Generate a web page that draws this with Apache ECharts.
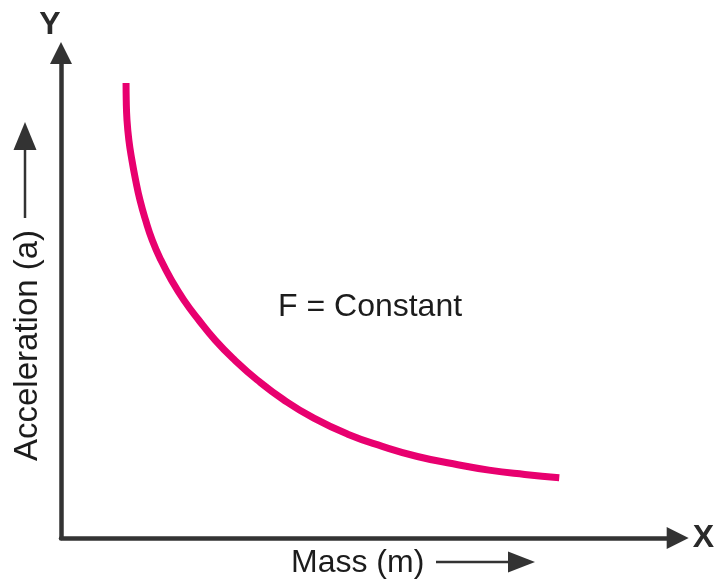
<!DOCTYPE html>
<html>
<head>
<meta charset="utf-8">
<style>
  html, body { margin: 0; padding: 0; background: #ffffff; }
  #chart { width: 717px; height: 583px; }
</style>
<script src="https://cdn.jsdelivr.net/npm/echarts@6/dist/echarts.min.js"></script>
</head>
<body>
<div id="chart"></div>
<script>
// Mass values (arbitrary units) along the curve
const mass = [1.055, 1.058, 1.07, 1.10, 1.15, 1.21, 1.28, 1.37, 1.48, 1.62, 1.79, 1.99, 2.23,
              2.50, 2.815, 3.18, 3.61, 4.10, 4.65, 5.21, 5.78, 6.36, 6.94, 7.52, 8.08];
// Acceleration at each mass value, for a constant force
const acceleration = [9.38, 9.03, 8.62, 8.21, 7.79, 7.38, 6.97, 6.56, 6.14, 5.73, 5.32, 4.91, 4.50,
                      4.08, 3.67, 3.26, 2.85, 2.47, 2.14, 1.89, 1.68, 1.53, 1.40, 1.31, 1.24];

const axisNames = { x: 'X', y: 'Y' };
const titles = { x: 'Mass (m)', y: 'Acceleration (a)', note: 'F = Constant' };

const FONT = '"Liberation Sans", Arial, Helvetica, sans-serif';
const AXIS_COLOR = '#333333';
const TEXT_COLOR = '#1c1c1c';
const CURVE_COLOR = '#E8006F';

const chart = echarts.init(document.getElementById('chart'), null, { renderer: 'canvas' });

const points = mass.map((m, i) => [m, acceleration[i]]);

const axisCommon = {
  type: 'value',
  min: 0,
  max: 10,
  splitLine: { show: false },
  axisTick: { show: false },
  axisLabel: { show: false },
  axisLine: {
    show: true,
    onZero: false,
    symbol: ['none', 'triangle'],
    symbolSize: [22, 22],
    lineStyle: { color: AXIS_COLOR, width: 4.5 }
  },
  nameTextStyle: { fontFamily: FONT, fontWeight: 'bold', fontSize: 32, color: '#2a2a2a' }
};

chart.setOption({
  animation: false,
  backgroundColor: '#ffffff',
  grid: { left: 61, top: 53, width: 620, height: 485, containLabel: false },
  xAxis: Object.assign({}, axisCommon, {
    name: axisNames.x,
    nameLocation: 'end',
    nameGap: 15,
    nameTextStyle: Object.assign({}, axisCommon.nameTextStyle, { align: 'left', verticalAlign: 'middle' })
  }),
  yAxis: Object.assign({}, axisCommon, {
    name: axisNames.y,
    nameLocation: 'end',
    nameGap: 12,
    nameTextStyle: Object.assign({}, axisCommon.nameTextStyle, { align: 'center', verticalAlign: 'bottom', padding: [0, 22, 0, 0] })
  }),
  series: [{
    type: 'line',
    data: points,
    smooth: 0.5,
    showSymbol: false,
    lineStyle: { color: CURVE_COLOR, width: 7, cap: 'butt' },
    z: 3
  }],
  graphic: [
    // note beside the curve
    {
      type: 'text', x: 278, y: 307,
      style: { text: titles.note, font: '32px ' + FONT, fill: TEXT_COLOR, textAlign: 'left', textVerticalAlign: 'middle' }
    },
    // horizontal axis title with arrow
    {
      type: 'text', x: 291, y: 563,
      style: { text: titles.x, font: '32px ' + FONT, fill: TEXT_COLOR, textAlign: 'left', textVerticalAlign: 'middle' }
    },
    { type: 'line', shape: { x1: 436, y1: 562, x2: 510, y2: 562 }, style: { stroke: '#333', lineWidth: 2.5 } },
    { type: 'polygon', shape: { points: [[535, 562], [508, 551.5], [508, 572.5]] }, style: { fill: '#333' } },
    // vertical axis title with arrow
    {
      type: 'text', x: 28, y: 461, rotation: Math.PI / 2,
      style: { text: titles.y, font: '33px ' + FONT, fill: TEXT_COLOR, textAlign: 'left', textVerticalAlign: 'middle' }
    },
    { type: 'line', shape: { x1: 25, y1: 218, x2: 25, y2: 148 }, style: { stroke: '#333', lineWidth: 2.5 } },
    { type: 'polygon', shape: { points: [[25, 122], [13.5, 150], [36.5, 150]] }, style: { fill: '#333' } }
  ]
});
</script>
</body>
</html>
